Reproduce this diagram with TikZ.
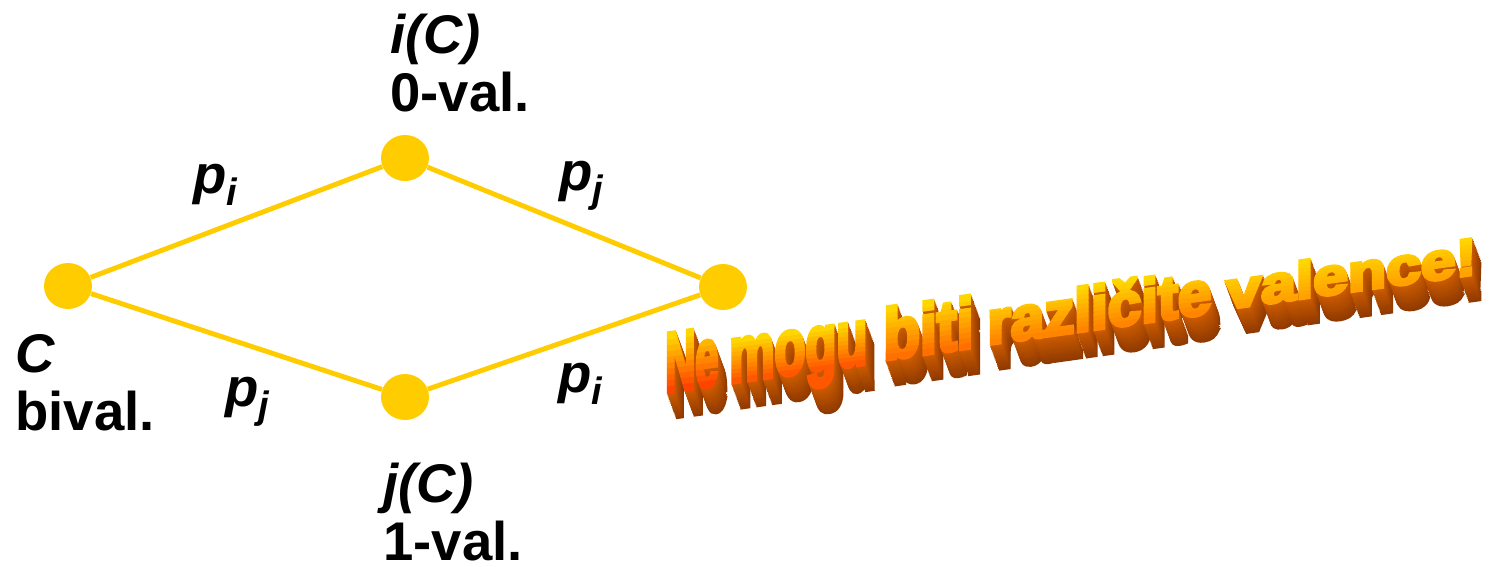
\documentclass[tikz,border=0pt]{standalone}
\usepackage{fontspec}
\setmainfont{Liberation Sans}
\newfontfamily\wafont[FakeBold=6]{Liberation Sans}
\usetikzlibrary{shapes.geometric, positioning}
\definecolor{latticegold}{HTML}{FFCC00}
\definecolor{wordtop}{HTML}{FFD800}
\definecolor{wordbottom}{HTML}{FF4400}
\definecolor{wordbottomfar}{HTML}{FFA600}
\definecolor{wordside}{HTML}{CC5C00}
\definecolor{wordback}{HTML}{8A3600}
\newlength\pxu
\setlength\pxu{0.02cm}

\begin{document}
\begin{tikzpicture}[x=0.02cm, y=-0.02cm,
  vertex/.style={ellipse, fill=latticegold, minimum width=0.96cm, minimum height=0.92cm, inner sep=0pt},
  link/.style={latticegold, line width=2.8pt},
  vlabel/.style={font=\fontsize{31}{33}\selectfont\bfseries, align=left, inner sep=0pt, anchor=west},
  plabel/.style={font=\fontsize{31}{33}\selectfont\bfseries\itshape, inner sep=0pt},
  wordart/.style={anchor=base west, inner sep=0pt, transform shape}
]
\useasboundingbox (0,0) rectangle (1503,566);

\node[vertex] (c) at (68,286) {};
\node[vertex] (ic) at (405,158) {};
\node[vertex] (d) at (723,287) {};
\node[vertex] (jc) at (405,397) {};

\draw[link] (c) -- (ic);
\draw[link] (ic) -- (d);
\draw[link] (c) -- (jc);
\draw[link] (jc) -- (d);

\node[vlabel] (iclbl) at (390,63) {{\itshape i(C)}\\0-val.};
\node[vlabel] (clbl) at (15,383) {{\itshape C}\\bival.};
\node[vlabel] (jclbl) at (383,512) {{\itshape j(C)}\\1-val.};

\node[plabel] (p1) at (216,185) {p\textsubscript{i}};
\node[plabel] (p2) at (582,186) {p\textsubscript{j}};
\node[plabel] (p3) at (248,402) {p\textsubscript{j}};
\node[plabel] (p4) at (581,384) {p\textsubscript{i}};

% word art, one word at a time
\foreach \xl/\yb/\w/\h/\txt/\m [count=\n] in {
  665/392.2/53/58/Ne/100,
  729/382.8/138/43/mogu/80,
  883/359.9/90/52/biti/55,
  987/344.5/224/46/različite/35,
  1226/309.2/250/38/valence!/5} {
  \begin{scope}[shift={(\xl,\yb)}, yslant=0.14]
    \colorlet{wabot}{wordbottom!\m!wordbottomfar}
    \foreach \k in {13,...,1} {
      \pgfmathtruncatemacro\pct{100-\k*7}
      \node[wordart, text=wordside!\pct!wordback] (side\n) at (\k*0.7,\k*2)
        {\resizebox{\w\pxu}{\h\pxu}{\wafont\bfseries\txt}};
    }
    \foreach \b in {0,...,9} {
      \pgfmathtruncatemacro\pct{\b*11}
      \pgfmathsetmacro\ytop{\b==9 ? -1.6*\h : -(\b+1)*\h/10-0.6}
      \pgfmathsetmacro\ybot{\b==0 ? 0.6*\h : -\b*\h/10}
      \begin{scope}
        \clip (-5,\ytop) rectangle (\w+15,\ybot);
        \node[wordart, text=wordtop!\pct!wabot] (word\n) at (0,0)
          {\resizebox{\w\pxu}{\h\pxu}{\wafont\bfseries\txt}};
      \end{scope}
    }
  \end{scope}
}
\end{tikzpicture}
\end{document}
